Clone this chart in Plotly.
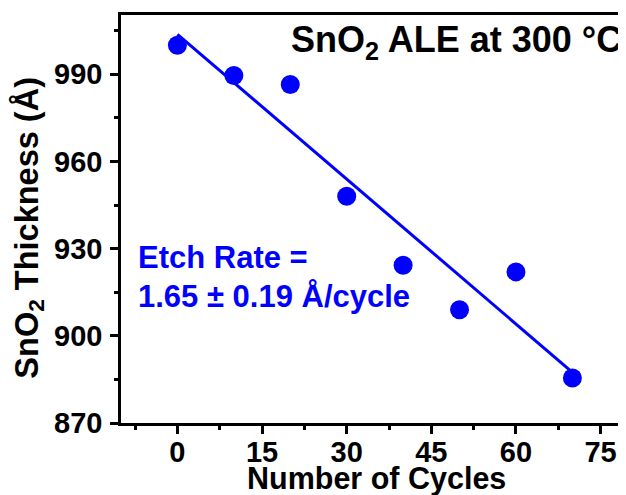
import numpy as np
import plotly.graph_objects as go

cycles = [0, 10, 20, 30, 40, 50, 60, 70]
thickness = [1000.0, 989.6, 986.5, 948.0, 924.3, 909.0, 922.0, 885.5]
x_ticks = [0, 15, 30, 45, 60, 75]
y_ticks = [870, 900, 930, 960, 990]

slope, intercept = np.polyfit(cycles, thickness, 1)
fit_x = [cycles[0], cycles[-1]]
fit_y = [intercept + slope * v for v in fit_x]

FONT = "Liberation Sans, Arial, sans-serif"
BLUE = "#0000FF"

fig = go.Figure()
fig.add_trace(go.Scatter(x=fit_x, y=fit_y, mode="lines",
                         line=dict(color=BLUE, width=3), showlegend=False))
fig.add_trace(go.Scatter(x=cycles, y=thickness, mode="markers",
                         marker=dict(color=BLUE, size=19), showlegend=False))

# page has an 8px body margin, so the figure is 8px smaller than the window
fig.update_layout(
    width=618, height=487,
    margin=dict(l=113, r=0, t=6.7, b=72.3),
    plot_bgcolor="white", paper_bgcolor="white",
    font=dict(family=FONT, color="black"),
    xaxis=dict(
        range=[-10, 79.5], tickvals=x_ticks, ticks="outside", ticklen=8,
        tickwidth=2.5, tickcolor="black", showline=True, linewidth=2.5,
        linecolor="black", mirror=True, showgrid=False, zeroline=False,
        automargin=False, ticklabelstandoff=-7,
        tickfont=dict(size=29, family=FONT, color="black", weight="bold"),
        minor=dict(dtick=7.5, tick0=0, ticks="outside", ticklen=4,
                   tickwidth=2.5, tickcolor="black", showgrid=False),
    ),
    yaxis=dict(
        range=[870, 1010.4], tickvals=y_ticks, ticks="outside", ticklen=8,
        tickwidth=2.5, tickcolor="black", showline=True, linewidth=2.5,
        linecolor="black", mirror=False, showgrid=False, zeroline=False,
        automargin=False, ticklabelstandoff=2,
        tickfont=dict(size=29, family=FONT, color="black", weight="bold"),
        minor=dict(dtick=15, tick0=870, ticks="outside", ticklen=4,
                   tickwidth=2.5, tickcolor="black", showgrid=False),
    ),
)

# x-axis title
fig.add_annotation(x=0.505, y=-0.1355, xref="paper", yref="paper",
                   xanchor="center", yanchor="middle", showarrow=False,
                   text="<b>Number of Cycles</b>",
                   font=dict(size=30.5, family=FONT, color="black"))
# y-axis title
fig.add_annotation(x=-0.184, y=0.479, xref="paper", yref="paper",
                   xanchor="center", yanchor="middle", textangle=-90,
                   showarrow=False,
                   text="<b>SnO<sub>2</sub> Thickness (Å)</b>",
                   font=dict(size=32.5, family=FONT, color="black"))

fig.add_annotation(x=19.8, y=1001, xref="x", yref="y", xanchor="left",
                   yanchor="middle", showarrow=False,
                   text="<b>SnO<sub>2</sub> ALE at 300 °C</b>",
                   font=dict(size=36, family=FONT, color="black"))
fig.add_annotation(x=-7.3, y=927.1, xref="x", yref="y", xanchor="left",
                   yanchor="middle", showarrow=False,
                   text="<b>Etch Rate =</b>",
                   font=dict(size=31, family=FONT, color=BLUE))
fig.add_annotation(x=-7.3, y=913.4, xref="x", yref="y", xanchor="left",
                   yanchor="middle", showarrow=False,
                   text="<b>1.65 ± 0.19 Å/cycle</b>",
                   font=dict(size=31, family=FONT, color=BLUE))

fig.write_html("out.html")
